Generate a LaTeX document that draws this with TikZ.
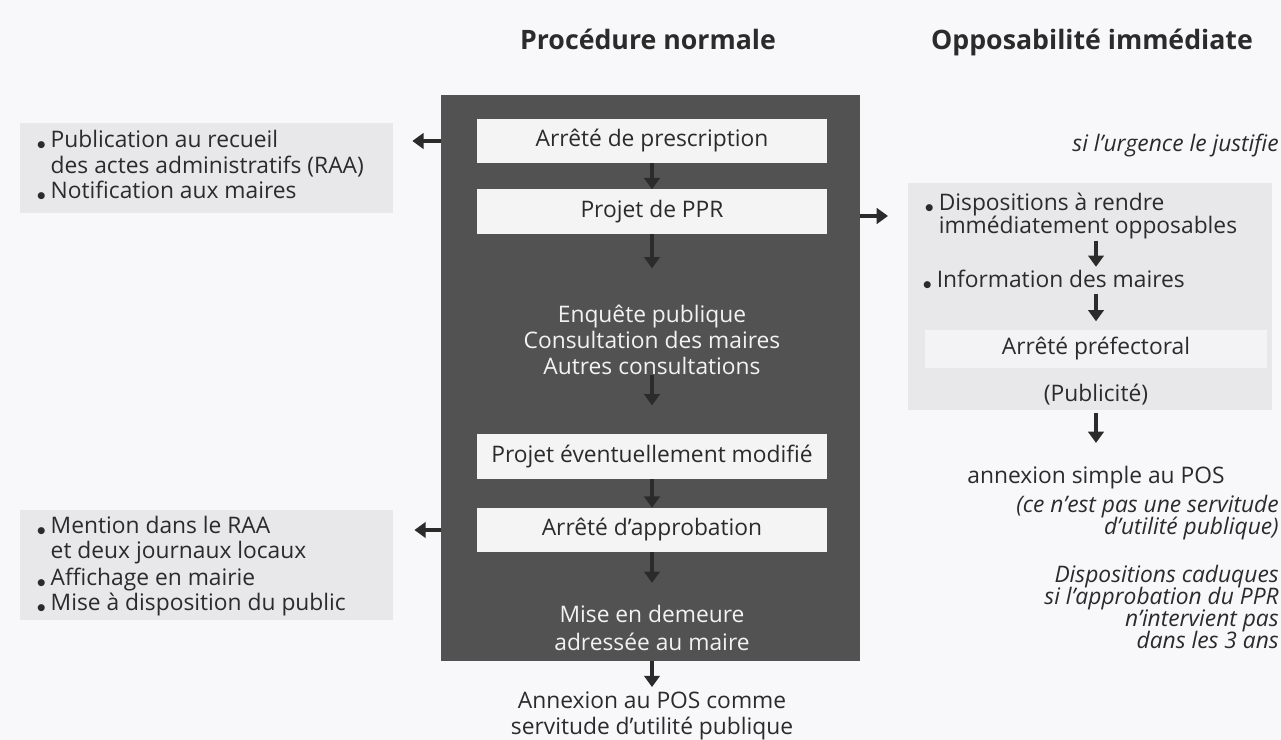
\documentclass[tikz,border=0pt]{standalone}
\usepackage{fontspec}
\setmainfont{Open Sans}
\newfontfamily\dejavu{DejaVu Sans}
\usetikzlibrary{arrows.meta}
\definecolor{panelgray}{HTML}{525252}
\definecolor{boxwhite}{HTML}{F4F4F4}
\definecolor{notegray}{HTML}{E8E8EA}
\definecolor{prefwhite}{HTML}{F3F3F5}
\definecolor{pagebg}{HTML}{F8F8FA}
\definecolor{ink}{HTML}{2B2B2B}
\definecolor{paneltxt}{HTML}{F2F2F2}
\newcommand{\mainfs}{\fontsize{16.2}{18}\selectfont}
\newcommand{\smallfs}{\fontsize{16.2}{15.6}\selectfont\lineskiplimit=-20pt}
\newcommand{\headfs}{\fontsize{19}{22}\selectfont\bfseries}
\newcommand{\bul}{\makebox[11pt][l]{\hspace*{1.5pt}{\dejavu\fontsize{6.5}{6.5}\selectfont ●}}}
\newcommand{\bulsp}{\hspace*{11pt}}

\begin{document}
\begin{tikzpicture}[x=0.025cm, y=-0.025cm,
  stepbox/.style={fill=boxwhite, minimum width=8.75cm, minimum height=1.1cm,
                  inner sep=0pt, font=\mainfs, text=ink},
  notebox/.style={fill=notegray, inner sep=0pt},
  ptext/.style={font=\mainfs, text=paneltxt, align=center, inner sep=0pt},
  ntext/.style={font=\mainfs, text=ink, align=left, inner sep=0pt},
  rtext/.style={font=\smallfs\itshape, text=ink, align=right, inner sep=0pt},
  head/.style={font=\headfs, text=ink, inner sep=0pt},
  flow/.style={draw=ink, line width=2.6pt, -{Triangle[width=11pt,length=8pt]}},
]
\fill[pagebg] (0,0) rectangle (1281,740);
\useasboundingbox (0,0) rectangle (1281,740);

% titres
\node[head, anchor=base] (hnorm) at (648,50) {Procédure normale};
\node[head, anchor=base] (himm) at (1092,50) {Opposabilité immédiate};

% procedure normale
\node[fill=panelgray, minimum width=10.475cm, minimum height=14.15cm, inner sep=0pt] (panel) at (650.5,378) {};
\node[stepbox] (pres) at (652,141) {Arrêté de prescription};
\node[stepbox] (ppr) at (652,211.5) {Projet de PPR};
\node[ptext] (enq) at (652,340) {Enquête publique\\[0.5pt]Consultation des maires\\[0.5pt]Autres consultations};
\node[stepbox] (modif) at (652,456.5) {Projet éventuellement modifié};
\node[stepbox] (appro) at (652,530) {Arrêté d'approbation};
\node[ptext] (mise) at (652,628) {Mise en demeure\\[1.3pt]adressée au maire};
\node[ntext, align=center] (annex) at (652,716) {Annexion au POS comme\\servitude d'utilité publique};

% publicite
\node[notebox, minimum width=9.325cm, minimum height=2.25cm] (bg1) at (206.5,168) {};
\node[ntext, anchor=west] (pub) at (35,165) {\bul Publication au recueil\\\bulsp des actes administratifs (RAA)\\\bul Notification aux maires};
\node[notebox, minimum width=9.325cm, minimum height=2.75cm] (bg2) at (206.5,565) {};
\node[ntext, anchor=west] (mention) at (35,566) {\bul Mention dans le RAA\\\bulsp et deux journaux locaux\\[1.3pt]\bul Affichage en mairie\\\bul Mise à disposition du public};

% opposabilite immediate
\node[notebox, minimum width=9.1cm, minimum height=5.675cm] (bgr) at (1090,296.5) {};
\node[fill=prefwhite, minimum width=8.55cm, minimum height=0.95cm, inner sep=0pt,
      font=\mainfs, text=ink] (pref) at (1096,349) {Arrêté préfectoral};
\node[rtext, anchor=base east] (urg) at (1279,152) {si l'urgence le justifie};
\node[ntext, anchor=west] (dispo) at (923,216) {\bul Dispositions à rendre\\[-1.8pt]\bulsp immédiatement opposables};
\node[ntext, anchor=base west] (info) at (921,288) {\bul Information des maires};
\node[ntext, anchor=base] (publ) at (1096,402) {(Publicité)};
\node[ntext, anchor=base] (anx2) at (1096,483) {annexion simple au POS};
\node[rtext, anchor=east] (serv) at (1279,518) {(ce n'est pas une servitude\\d'utilité publique)};
\node[rtext, anchor=east] (cadu) at (1279,607) {Dispositions caduques\\si l'approbation du PPR\\n'intervient pas\\dans les 3 ans};

% fleches
\draw[flow] (pres) -- (ppr);
\draw[flow, shorten >=26pt] (ppr) -- (enq);
\draw[flow, shorten >=20.5pt] (enq) -- (modif);
\draw[flow] (modif) -- (appro);
\draw[flow, shorten >=16pt] (appro) -- (mise);
\draw[flow, shorten >=3.5pt] (annex.north |- panel.south) -- (annex);
\draw[flow, shorten >=13.5pt] (panel.west |- pres) -- (bg1.east |- pres);
\draw[flow, shorten >=15pt] (panel.west |- appro) -- (bg2.east |- appro);
\draw[flow, shorten >=14pt] (panel.east |- dispo) -- (bgr.west |- dispo);
\draw[flow, shorten <=1pt, shorten >=2.5pt] (dispo.south -| pref) -- (info.north -| pref);
\draw[flow, shorten <=3pt, shorten >=6pt] (info.south -| pref) -- (pref.north);
\draw[flow, shorten <=5pt, shorten >=16pt] (publ) -- (anx2);
\end{tikzpicture}
\end{document}
